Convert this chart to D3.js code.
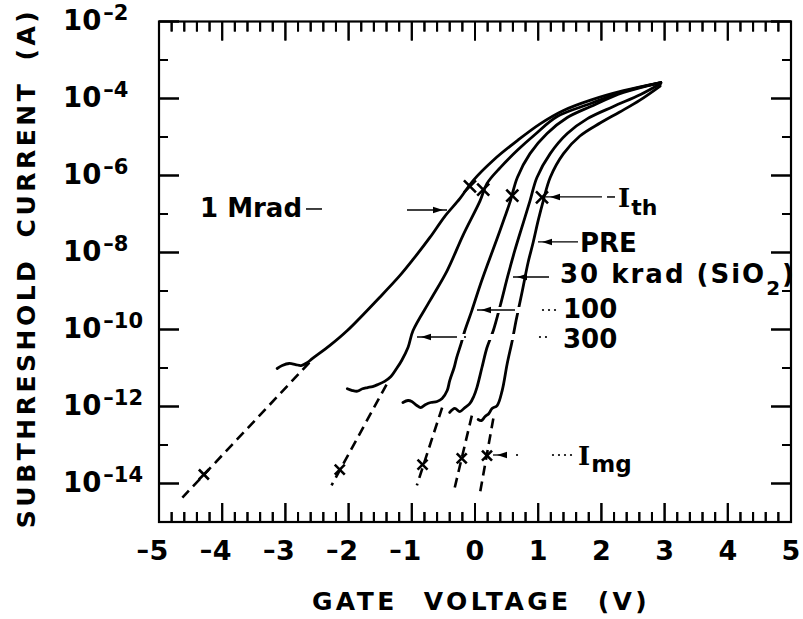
<!DOCTYPE html>
<html><head><meta charset="utf-8">
<script src="https://cdn.jsdelivr.net/npm/d3@7"></script>
<style>body{margin:0;background:#fff}svg{display:block}</style>
</head><body>
<svg id="c" width="803" height="619"></svg>
<script>
// ---------------- data (gate voltage V, subthreshold current A) ----------------
const seriesNames = ["1 Mrad", "300", "100", "30 krad", "PRE"];
const curve1Mrad = [[-3.13,9.7e-12],[-3.05,1.16e-11],[-2.94,1.31e-11],[-2.84,1.23e-11],[-2.75,1.16e-11],[-2.65,1.39e-11],[-2.57,1.77e-11],[-2.30,3.8e-11],[-2.02,9.4e-11],[-1.51,6.8e-10],[-1.19,2.5e-9],[-0.98,6.6e-9],[-0.71,2.5e-8],[-0.48,8.6e-8],[-0.24,2.5e-7],[-0.03,7.4e-7],[0.29,2.5e-6],[0.67,8.1e-6],[1.03,2.2e-5],[1.40,4.9e-5],[1.83,9.1e-5],[2.35,1.6e-4],[2.94,2.6e-4]];
const curve300 = [[-2.02,2.9e-12],[-1.94,2.6e-12],[-1.86,2.5e-12],[-1.78,2.9e-12],[-1.70,3.1e-12],[-1.62,3.3e-12],[-1.54,3.7e-12],[-1.43,4.5e-12],[-1.33,6.0e-12],[-1.24,9.7e-12],[-1.16,1.57e-11],[-1.06,3.4e-11],[-0.98,9.4e-11],[-0.71,5.7e-10],[-0.44,3.4e-9],[-0.19,2.8e-8],[0.08,2.2e-7],[0.19,6.2e-7],[0.40,1.6e-6],[0.67,4.5e-6],[0.95,1.16e-5],[1.30,3.4e-5],[1.83,7.4e-5],[2.35,1.52e-4],[2.94,2.6e-4]];
const curve100 = [[-1.14,1.27e-12],[-1.06,1.43e-12],[-1.00,1.35e-12],[-0.92,1.06e-12],[-0.86,9.4e-13],[-0.78,1.13e-12],[-0.70,1.27e-12],[-0.60,1.35e-12],[-0.52,1.61e-12],[-0.44,2.6e-12],[-0.40,4.7e-12],[-0.33,1.03e-11],[-0.29,1.87e-11],[-0.22,4.3e-11],[-0.16,9.4e-11],[-0.05,3.1e-10],[0.08,1.39e-9],[0.21,5.5e-9],[0.35,2.3e-8],[0.48,9.1e-8],[0.56,2.2e-7],[0.67,8.9e-7],[0.87,3.7e-6],[1.14,1.23e-5],[1.46,3.2e-5],[1.83,6.2e-5],[2.35,1.43e-4],[2.94,2.6e-4]];
const curve30k = [[-0.40,7.0e-13],[-0.32,8.9e-13],[-0.24,7.4e-13],[-0.16,9.4e-13],[-0.08,1.2e-12],[-0.02,1.82e-12],[0.03,3.1e-12],[0.11,1.03e-11],[0.19,3.4e-11],[0.29,9.4e-11],[0.40,4.2e-10],[0.52,2.5e-9],[0.63,1.13e-8],[0.75,5.0e-8],[0.87,2.2e-7],[0.98,8.9e-7],[1.19,3.7e-6],[1.46,1.23e-5],[1.78,3.0e-5],[2.19,6.2e-5],[2.62,1.27e-4],[2.94,2.45e-4]];
const curvePRE = [[0.05,4.6e-13],[0.10,4.3e-13],[0.16,5.5e-13],[0.22,6.6e-13],[0.27,8.9e-13],[0.35,1.06e-12],[0.43,2.6e-12],[0.51,1.31e-11],[0.59,5.2e-11],[0.65,1.71e-10],[0.75,1.03e-9],[0.84,5.5e-9],[0.92,1.82e-8],[1.00,6.8e-8],[1.08,2.2e-7],[1.19,8.9e-7],[1.40,3.7e-6],[1.66,1.06e-5],[1.98,2.31e-5],[2.29,4.46e-5],[2.61,9.1e-5],[2.93,2.11e-4]];

// dashed extrapolations to midgap current
const ext1Mrad = [[-2.62,1.39e-11],[-4.63,4.3e-15]];
const ext300   = [[-1.40,3.7e-12],[-2.27,8.9e-15]];
const ext100   = [[-0.52,9.4e-13],[-0.92,8.9e-15]];
const ext30k   = [[-0.05,5.8e-13],[-0.32,7.9e-15]];
const extPRE   = [[0.29,4.9e-13],[0.08,5.8e-15]];

// I_mg markers and I_th markers
const imgV = [-4.29,-2.14,-0.83,-0.21,0.19];
const imgI = [1.71e-14,2.3e-14,3.1e-14,4.5e-14,5.3e-14];
const ithV = [-0.08,0.13,0.59,1.06];
const ithI = [5.2e-7,4.3e-7,3.0e-7,2.7e-7];

// ticks
const xTickLabels = [-5,-4,-3,-2,-1,0,1,2,3,4,5];
const yTickExps = [-2,-4,-6,-8,-10,-12,-14];
const yOddExps = [-3,-5,-7,-9,-11,-13];

// ---------------- layout ----------------
const svg = d3.select("#c");
const x = d3.scaleLinear().domain([-5,5]).range([159,791]);
const y = d3.scaleLog().domain([1e-15,1e-2]).range([522,21.5]);
const SANS = "'DejaVu Sans', Verdana, sans-serif";
const SERIF = "'DejaVu Serif', 'Liberation Serif', serif";

// frame
svg.append("rect").attr("x",x(-5)).attr("y",y(1e-2))
  .attr("width",x(5)-x(-5)).attr("height",y(1e-15)-y(1e-2))
  .attr("fill","none").attr("stroke","#000").attr("stroke-width",2.2);

// inward ticks as thin filled rectangles placed through the scales
const xMinor = d3.range(-50,51,2).map(d=>d/10).filter(d=>Math.abs(d-Math.round(d))>1e-6);
const yMajorVals = yTickExps.map(e=>Math.pow(10,e));
const yMinorVals = yOddExps.map(e=>Math.pow(10,e));
const tickG = svg.append("g").attr("class","ticks");
const yBot = y(1e-15), yTop = y(1e-2), xL = x(-5), xR = x(5);
function vTick(v, len){
  tickG.append("rect").attr("x",x(v)-1).attr("y",yBot-len).attr("width",2).attr("height",len).attr("fill","#000");
  tickG.append("rect").attr("x",x(v)-1).attr("y",yTop).attr("width",2).attr("height",len).attr("fill","#000");
}
function hTick(v, len){
  tickG.append("rect").attr("x",xL).attr("y",y(v)-1).attr("width",len).attr("height",2).attr("fill","#000");
  tickG.append("rect").attr("x",xR-len).attr("y",y(v)-1).attr("width",len).attr("height",2).attr("fill","#000");
}
xTickLabels.forEach(v=>vTick(v,19));
xMinor.forEach(v=>vTick(v,10));
yMajorVals.forEach(v=>hTick(v,20));
yMinorVals.forEach(v=>hTick(v,9));

// y tick labels 10^-n
yTickExps.forEach(e=>{
  const t = svg.append("text").attr("x",63).attr("y",y(Math.pow(10,e))+8)
    .attr("font-family",SANS).attr("font-weight","bold").attr("font-size",27.5).attr("fill","#000");
  t.append("tspan").text("10");
  t.append("tspan").attr("font-size",21).attr("dx",2).attr("dy",-10).text("\u2013"+Math.abs(e));
});
// x tick labels
xTickLabels.forEach(v=>{
  svg.append("text").attr("x",x(v)).attr("y",560).attr("text-anchor","middle")
    .attr("font-family",SANS).attr("font-weight","bold").attr("font-size",27).text(Math.abs(v));
  if(v<0) svg.append("text").attr("x",x(v)-10).attr("y",558).attr("text-anchor","end")
    .attr("font-family",SANS).attr("font-weight","bold").attr("font-size",25).text("\u2013");
});
// axis titles
svg.append("text").attr("x",481).attr("y",610).attr("text-anchor","middle")
  .attr("font-family",SANS).attr("font-weight","bold").attr("font-size",25)
  .attr("letter-spacing",3.4).attr("word-spacing",14).text("GATE VOLTAGE (V)");
svg.append("text").attr("transform","translate(35,268) rotate(-90)").attr("text-anchor","middle")
  .attr("font-family",SANS).attr("font-weight","bold").attr("font-size",25)
  .attr("letter-spacing",3.5).attr("word-spacing",8).text("SUBTHRESHOLD CURRENT (A)");

// ---------------- curves ----------------
const lineGen = d3.line().x(d=>x(d[0])).y(d=>y(d[1])).curve(d3.curveCatmullRom.alpha(0.5));
const curves = [curve1Mrad, curve300, curve100, curve30k, curvePRE];
const cg = svg.append("g");
curves.forEach(c=>cg.append("path").attr("d",lineGen(c)).attr("fill","none").attr("stroke","#000")
  .attr("stroke-width",2.8).attr("stroke-linejoin","round").attr("stroke-linecap","round"));
const exts = [ext1Mrad, ext300, ext100, ext30k, extPRE];
const straight = d3.line().x(d=>x(d[0])).y(d=>y(d[1]));
exts.forEach(c=>cg.append("path").attr("d",straight(c)).attr("fill","none").attr("stroke","#000")
  .attr("stroke-width",2.6).attr("stroke-dasharray","10,6"));

// tick marks again as straight paths in data space (same generator as the dashed lines)
const tickLen = v => Math.pow(10, v);
xTickLabels.forEach(v=>{
  cg.append("path").attr("d",straight([[v,1e-15],[v,Math.pow(10,-15+19/38.5)]])).attr("stroke","#000").attr("stroke-width",2).attr("fill","none");
  cg.append("path").attr("d",straight([[v,1e-2],[v,Math.pow(10,-2-19/38.5)]])).attr("stroke","#000").attr("stroke-width",2).attr("fill","none");
});
xMinor.forEach(v=>{
  cg.append("path").attr("d",straight([[v,1e-15],[v,Math.pow(10,-15+10/38.5)]])).attr("stroke","#000").attr("stroke-width",2).attr("fill","none");
  cg.append("path").attr("d",straight([[v,1e-2],[v,Math.pow(10,-2-10/38.5)]])).attr("stroke","#000").attr("stroke-width",2).attr("fill","none");
});
yMajorVals.forEach(v=>{
  cg.append("path").attr("d",straight([[-5,v],[-5+20/63.2,v]])).attr("stroke","#000").attr("stroke-width",2).attr("fill","none");
  cg.append("path").attr("d",straight([[5,v],[5-20/63.2,v]])).attr("stroke","#000").attr("stroke-width",2).attr("fill","none");
});
yMinorVals.forEach(v=>{
  cg.append("path").attr("d",straight([[-5,v],[-5+9/63.2,v]])).attr("stroke","#000").attr("stroke-width",2).attr("fill","none");
  cg.append("path").attr("d",straight([[5,v],[5-9/63.2,v]])).attr("stroke","#000").attr("stroke-width",2).attr("fill","none");
});

// ---------------- annotations (positions in data units) ----------------
const ann = {
  mrad:{text:[-4.351,8.36e-8], dash:[-2.674,-2.421,1.35e-7], arrow:[-1.076,-0.443,1.27e-7]},
  ith:{text:[2.263,1.52e-7], arrow:[2.009,1.123,2.77e-7], dash:[2.089,2.215,2.77e-7]},
  pre:{text:[1.661,1.03e-8], arrow:[1.630,0.997,1.88e-8]},
  k30:{text:[1.345,1.61e-9], arrow:[1.171,0.601,2.31e-9]},
  h100:{text:[1.392,1.99e-10], halo:[0.206,1.282], arrow:[0.633,0.032,3.21e-10], dots:[1.076,1.171,1.266]},
  h300:{text:[1.392,3.30e-11], halo:[-0.269,1.218], arrow:[-0.285,-0.918,6.38e-11], dots:[-0.158,1.028,1.123]},
  img:{text:[1.630,3.03e-14], arrow:[0.506,0.285,5.50e-14], dots:[0.665,1.234,1.329,1.424,1.519]}
};
const ag = svg.append("g");
function haloLine(a,b,I){ ag.append("line").attr("x1",x(a)).attr("x2",x(b)).attr("y1",y(I)).attr("y2",y(I)).attr("stroke","#fff").attr("stroke-width",6); }
function seg(a,b,I,w){ ag.append("line").attr("x1",x(a)).attr("x2",x(b)).attr("y1",y(I)).attr("y2",y(I)).attr("stroke","#000").attr("stroke-width",w||1.3); }
function arrowAt(a){ // from a[0] to a[1] at current a[2], head at a[1]
  const xa=x(a[0]), xb=x(a[1]), yy=y(a[2]);
  seg(a[0],a[1],a[2],1.3);
  const s = Math.sign(xb-xa), L=10, W=3.2, tip=xb - s*4;
  ag.append("path").attr("d",`M${tip},${yy} L${tip-s*L},${yy-W} L${tip-s*L},${yy+W}Z`).attr("fill","#000");
}
function dotsAt(list,I){ list.forEach(v=>ag.append("circle").attr("cx",x(v)).attr("cy",y(I)).attr("r",1.1).attr("fill","#000")); }
function labelAt(p,str,size){ return ag.append("text").attr("x",x(p[0])).attr("y",y(p[1])).attr("font-family",SANS).attr("font-weight","bold").attr("font-size",size||26).text(str); }

haloLine(ann.h100.halo[0],ann.h100.halo[1],ann.h100.arrow[2]);
haloLine(ann.h300.halo[0],ann.h300.halo[1],ann.h300.arrow[2]);

labelAt(ann.mrad.text,"1 Mrad");
seg(ann.mrad.dash[0],ann.mrad.dash[1],ann.mrad.dash[2],1.5);
arrowAt(ann.mrad.arrow);

arrowAt(ann.ith.arrow);
seg(ann.ith.dash[0],ann.ith.dash[1],ann.ith.dash[2],1.5);
{ const t = ag.append("text").attr("x",x(ann.ith.text[0])).attr("y",y(ann.ith.text[1]))
    .attr("font-weight","bold").attr("font-size",26);
  t.append("tspan").attr("font-family",SERIF).text("I");
  t.append("tspan").attr("font-family",SANS).attr("font-size",22).attr("dx",1).attr("dy",8).text("th"); }

arrowAt(ann.pre.arrow); labelAt(ann.pre.text,"PRE");
arrowAt(ann.k30.arrow);
{ const t = labelAt(ann.k30.text,"").attr("letter-spacing",2);
  t.append("tspan").text("30 krad (SiO");
  t.append("tspan").attr("font-size",20).attr("dy",12).text("2");
  t.append("tspan").attr("dy",-12).text(")"); }
arrowAt(ann.h100.arrow); dotsAt(ann.h100.dots,ann.h100.arrow[2]); labelAt(ann.h100.text,"100");
arrowAt(ann.h300.arrow); dotsAt(ann.h300.dots,ann.h300.arrow[2]); labelAt(ann.h300.text,"300");
arrowAt(ann.img.arrow); dotsAt(ann.img.dots,ann.img.arrow[2]);
{ const t = ag.append("text").attr("x",x(ann.img.text[0])).attr("y",y(ann.img.text[1]))
    .attr("font-weight","bold").attr("font-size",26);
  t.append("tspan").attr("font-family",SERIF).text("I");
  t.append("tspan").attr("font-family",SANS).attr("font-size",23).attr("dx",1).attr("dy",7).text("mg"); }

// X markers
function xMark(V,I,r){
  const cx=x(V), cy=y(I);
  ag.append("path").attr("d",`M${cx-r},${cy-r}L${cx+r},${cy+r}M${cx-r},${cy+r}L${cx+r},${cy-r}`)
    .attr("stroke","#000").attr("stroke-width",2.6).attr("fill","none");
}
imgV.forEach((v,i)=>xMark(v,imgI[i],5));
ithV.forEach((v,i)=>xMark(v,ithI[i],6));
</script>
</body></html>
